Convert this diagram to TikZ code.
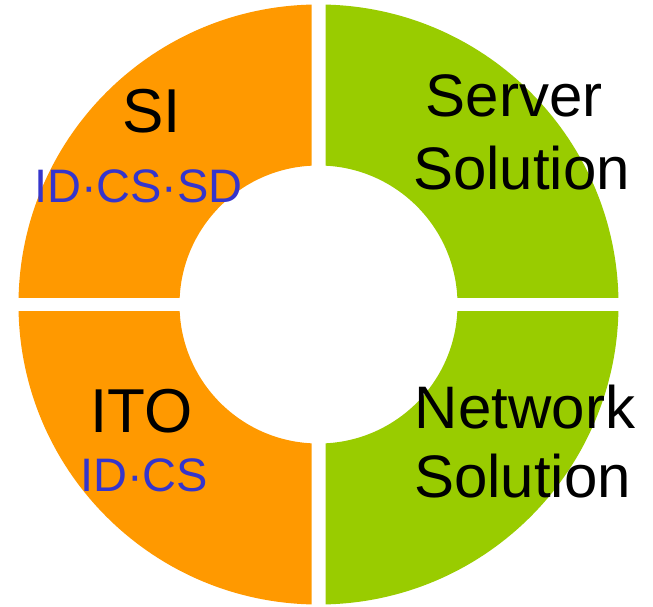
\documentclass[tikz,border=0pt]{standalone}
\usepackage{fontspec}
\setmainfont{Liberation Sans}
\definecolor{ringorange}{HTML}{FF9900}
\definecolor{ringgreen}{HTML}{99CC00}
\definecolor{subblue}{HTML}{3535CC}
\begin{document}
\begin{tikzpicture}[x=1pt,y=-1pt,
  bigtxt/.style={anchor=base,inner sep=0pt,text=black,font=\fontsize{62}{62}\selectfont},
  midtxt/.style={anchor=base,inner sep=0pt,text=black,font=\fontsize{60}{60}\selectfont},
  subtxt/.style={anchor=base,inner sep=0pt,text=subblue,font=\fontsize{47}{47}\selectfont}]
\useasboundingbox (0,0) rectangle (653,607);
\coordinate (c) at (318.5,304.5);
% top-left
\begin{scope}
\clip (0,0) rectangle (311.5,297.5);
\fill[ringorange,even odd rule] (c) circle[radius=300pt] (c) circle[radius=139pt];
\end{scope}
% bottom-left
\begin{scope}
\clip (0,311.5) rectangle (311.5,607);
\fill[ringorange,even odd rule] (c) circle[radius=300pt] (c) circle[radius=139pt];
\end{scope}
% top-right
\begin{scope}
\clip (325.5,0) rectangle (653,297.5);
\fill[ringgreen,even odd rule] (c) circle[radius=300pt] (c) circle[radius=139pt];
\end{scope}
% bottom-right
\begin{scope}
\clip (325.5,311.5) rectangle (653,607);
\fill[ringgreen,even odd rule] (c) circle[radius=300pt] (c) circle[radius=139pt];
\end{scope}
% labels
\node[bigtxt] (si) at (151.5,133) {SI};
\node[subtxt] (sisub) at (138.5,202) {ID·CS·SD};
\node[midtxt] (srv1) at (514,117) {Server};
\node[midtxt] (srv2) at (521.5,189) {Solution};
\node[bigtxt] (ito) at (141.5,432) {ITO};
\node[subtxt] (itosub) at (144,491) {ID·CS};
\node[midtxt] (net1) at (525,428) {Network};
\node[midtxt] (net2) at (522.5,497) {Solution};
\end{tikzpicture}
\end{document}
